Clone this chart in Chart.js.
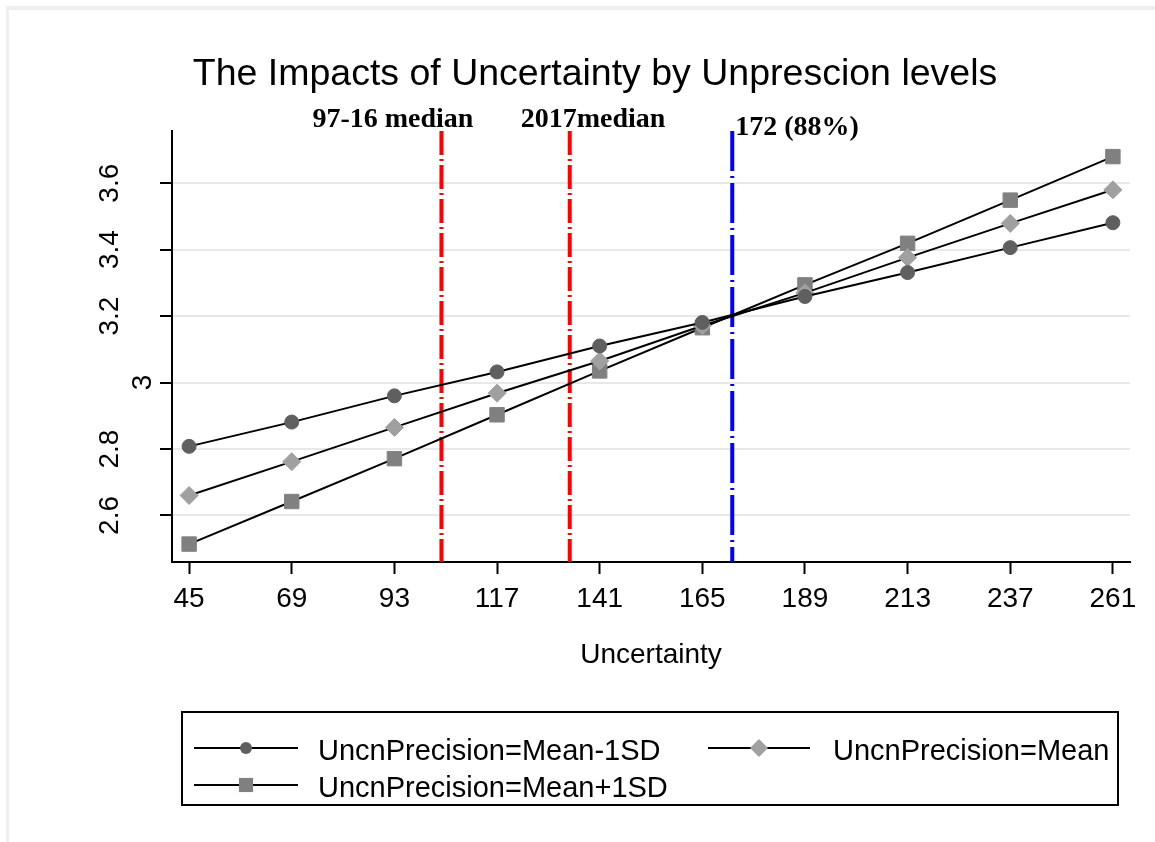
<!DOCTYPE html>
<html>
<head>
<meta charset="utf-8">
<script src="https://cdn.jsdelivr.net/npm/chart.js@4.4.1/dist/chart.umd.min.js"></script>
<style>
  html, body { margin: 0; padding: 0; background: #fff; }
  #wrap { width: 1155px; height: 842px; }
</style>
</head>
<body>
<div id="wrap"><canvas id="chart" width="1155" height="842"></canvas></div>
<script>
// values
const uncertainty = [45, 69, 93, 117, 141, 165, 189, 213, 237, 261];
const meanMinus1SD = [2.808, 2.881, 2.960, 3.032, 3.110, 3.181, 3.259, 3.331, 3.406, 3.481];
const meanLevel    = [2.660, 2.762, 2.865, 2.968, 3.065, 3.171, 3.270, 3.376, 3.479, 3.580];
const meanPlus1SD  = [2.514, 2.642, 2.771, 2.903, 3.035, 3.165, 3.294, 3.419, 3.549, 3.680];
const seriesNames = ['UncnPrecision=Mean-1SD', 'UncnPrecision=Mean', 'UncnPrecision=Mean+1SD'];

const xTicks = [45, 69, 93, 117, 141, 165, 189, 213, 237, 261];
const yTicks = [2.6, 2.8, 3, 3.2, 3.4, 3.6];
const xMin = 41, xMax = 265;
const yMin = 2.46, yMax = 3.757;

const refValues = [104, 134, 172];
const refLabels = ['97-16 median', '2017median', '172 (88%)'];

const titleText = 'The Impacts of Uncertainty by Unprescion levels';
const xTitle = 'Uncertainty';

const SANS = '"Liberation Sans", Arial, sans-serif';
const SERIF = '"Liberation Serif", "Times New Roman", serif';
Chart.defaults.font.family = SANS;
Chart.defaults.color = '#000';

const markers = [
  { style: 'circle', color: '#5f5f5f', radius: 7, legendRadius: 6 },
  { style: 'rectRot', color: '#a0a0a0', radius: 9, legendRadius: 9 },
  { style: 'rect', color: '#808080', radius: 10.2, legendRadius: 10 }
];

const toPoints = ys => uncertainty.map((x, i) => ({ x: x, y: ys[i] }));
const seriesData = [meanMinus1SD, meanLevel, meanPlus1SD];

const seriesSets = seriesData.map((ys, i) => ({
  label: seriesNames[i],
  data: toPoints(ys),
  borderColor: '#000',
  borderWidth: 2,
  pointStyle: markers[i].style,
  pointRadius: markers[i].radius,
  pointBackgroundColor: markers[i].color,
  pointBorderColor: markers[i].color,
  pointBorderWidth: 1,
  tension: 0,
  fill: false,
  order: 0
}));

const refColors = ['#ff0000', '#ff0000', '#0000ff'];
const refDashes = [[24, 4, 2, 4], [24, 4, 2, 4], [40, 5, 2, 5]];
const refSets = refValues.map((v, i) => ({
  label: refLabels[i],
  data: [{ x: v, y: yMax }, { x: v, y: yMin }],
  borderColor: refColors[i],
  borderWidth: 4,
  borderDash: refDashes[i],
  borderCapStyle: 'butt',
  pointRadius: 0,
  fill: false,
  order: 5
}));

function drawMarker(ctx, style, x, y, r, color) {
  ctx.save();
  ctx.fillStyle = color;
  ctx.beginPath();
  if (style === 'circle') {
    ctx.arc(x, y, r, 0, Math.PI * 2);
  } else if (style === 'rect') {
    const s = r * Math.SQRT1_2;
    ctx.rect(x - s, y - s, 2 * s, 2 * s);
  } else {
    ctx.moveTo(x - r, y);
    ctx.lineTo(x, y - r);
    ctx.lineTo(x + r, y);
    ctx.lineTo(x, y + r);
    ctx.closePath();
  }
  ctx.fill();
  ctx.restore();
}

// white page with the thin grey frame at top and left
const framePlugin = {
  id: 'frame',
  beforeDraw(chart) {
    const ctx = chart.ctx;
    ctx.save();
    ctx.fillStyle = '#fff';
    ctx.fillRect(0, 0, chart.width, chart.height);
    ctx.fillStyle = '#efefef';
    ctx.fillRect(6, 6, chart.width - 6, 4);
    ctx.fillRect(6, 6, 3, chart.height - 6);
    ctx.restore();
  }
};

// title, rotated y labels, x title, reference line labels
const textPlugin = {
  id: 'texts',
  afterDraw(chart) {
    const ctx = chart.ctx;
    const area = chart.chartArea;
    const xs = chart.scales.x, ys = chart.scales.y;
    ctx.save();
    ctx.fillStyle = '#000';

    ctx.font = '37.5px ' + SANS;
    ctx.textAlign = 'center';
    ctx.textBaseline = 'alphabetic';
    ctx.fillText(titleText, 595, 85);

    ctx.font = '28px ' + SANS;
    const labels = yTicks.map(v => String(v));
    const widths = labels.map(t => ctx.measureText(t).width);
    const wMax = Math.max(...widths);
    labels.forEach((t, i) => {
      const py = ys.getPixelForValue(yTicks[i]);
      const bx = area.left - 54 + (wMax - widths[i]) * 1.4;
      ctx.save();
      ctx.translate(bx, py);
      ctx.rotate(-Math.PI / 2);
      ctx.textAlign = 'center';
      ctx.fillText(t, 0, 0);
      ctx.restore();
    });

    ctx.textAlign = 'center';
    ctx.fillText(xTitle, (area.left + area.right) / 2, 663);

    ctx.font = 'bold 28px ' + SERIF;
    const place = [
      { align: 'right', dx: 32, y: 127 },
      { align: 'left', dx: -49, y: 127 },
      { align: 'left', dx: 3, y: 135 }
    ];
    refValues.forEach((v, i) => {
      const px = xs.getPixelForValue(v);
      ctx.textAlign = place[i].align;
      ctx.fillText(refLabels[i], px + place[i].dx, place[i].y);
    });
    ctx.restore();
  }
};

// boxed legend, two columns
const legendPlugin = {
  id: 'boxLegend',
  afterDraw(chart) {
    const ctx = chart.ctx;
    ctx.save();
    ctx.strokeStyle = '#000';
    ctx.lineWidth = 2;
    ctx.strokeRect(182, 712, 936, 93);
    const slots = [
      { x0: 194, x1: 298, tx: 318, y: 748 },
      { x0: 708, x1: 810, tx: 833, y: 748 },
      { x0: 194, x1: 298, tx: 318, y: 785 }
    ];
    ctx.font = '29px ' + SANS;
    ctx.fillStyle = '#000';
    ctx.textAlign = 'left';
    ctx.textBaseline = 'alphabetic';
    seriesNames.forEach((name, i) => {
      const s = slots[i];
      ctx.beginPath();
      ctx.lineWidth = 2;
      ctx.strokeStyle = '#000';
      ctx.moveTo(s.x0, s.y);
      ctx.lineTo(s.x1, s.y);
      ctx.stroke();
      drawMarker(ctx, markers[i].style, (s.x0 + s.x1) / 2, s.y, markers[i].legendRadius, markers[i].color);
      ctx.fillStyle = '#000';
      ctx.fillText(name, s.tx, s.y + 12);
    });
    ctx.restore();
  }
};

new Chart(document.getElementById('chart'), {
  type: 'line',
  data: { datasets: seriesSets.concat(refSets) },
  options: {
    responsive: false,
    animation: false,
    layout: { padding: { left: 0, right: 25, top: 131, bottom: 0 } },
    plugins: {
      legend: { display: false },
      tooltip: { enabled: false },
      title: { display: false }
    },
    scales: {
      x: {
        type: 'linear',
        min: xMin,
        max: xMax,
        afterBuildTicks: s => { s.ticks = xTicks.map(v => ({ value: v })); },
        afterFit: s => { s.height = 280; },
        grid: { drawOnChartArea: false, drawTicks: true, tickLength: 12, tickWidth: 2, tickColor: '#000' },
        border: { display: true, color: '#000', width: 2 },
        ticks: { color: '#000', font: { size: 28, lineHeight: 1.2 }, padding: 8, maxRotation: 0, minRotation: 0, autoSkip: false }
      },
      y: {
        type: 'linear',
        min: yMin,
        max: yMax,
        afterBuildTicks: s => { s.ticks = yTicks.map(v => ({ value: v })); },
        afterFit: s => { s.width = 172; },
        grid: { color: '#e8e8e8', lineWidth: 2, drawTicks: true, tickLength: 12, tickWidth: 2, tickColor: '#000' },
        border: { display: true, color: '#000', width: 2 },
        ticks: { display: false }
      }
    }
  },
  plugins: [framePlugin, textPlugin, legendPlugin]
});
</script>
</body>
</html>
